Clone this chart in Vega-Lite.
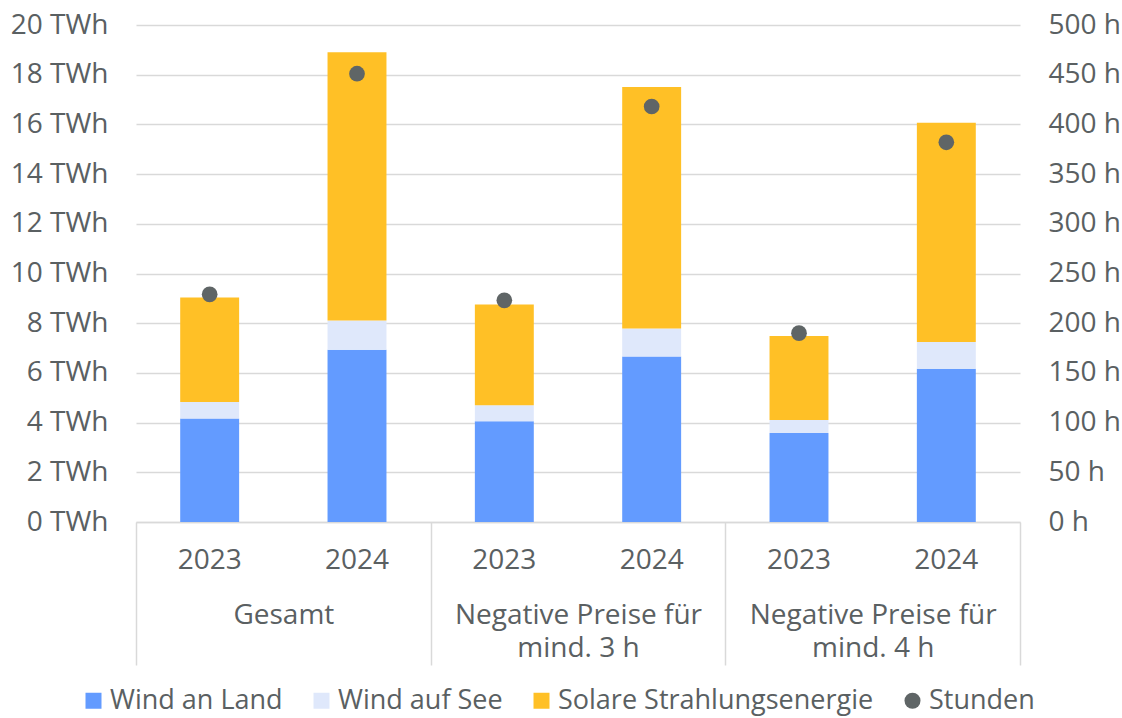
{
  "$schema": "https://vega.github.io/schema/vega-lite/v6.json",
  "width": 884,
  "height": 497,
  "autosize": {"type": "none"},
  "padding": {"left": 136, "top": 25, "right": 102, "bottom": 196},
  "background": "white",
  "config": {
    "font": "Open Sans",
    "view": {"stroke": null},
    "axis": {"labelFont": "Open Sans", "labelFontSize": 28, "labelColor": "#5a6062", "labelLimit": 400, "title": null},
    "legend": {"labelFont": "Open Sans", "labelFontSize": 27, "labelColor": "#5a6062", "labelLimit": 400}
  },
  "datasets": {
    "energy": [
      {"group": "Gesamt", "year": "2023", "key": "Gesamt 2023", "series": "Wind an Land", "ord": 1, "value": 4.17},
      {"group": "Gesamt", "year": "2023", "key": "Gesamt 2023", "series": "Wind auf See", "ord": 2, "value": 0.66},
      {"group": "Gesamt", "year": "2023", "key": "Gesamt 2023", "series": "Solare Strahlungsenergie", "ord": 3, "value": 4.2},
      {"group": "Gesamt", "year": "2024", "key": "Gesamt 2024", "series": "Wind an Land", "ord": 1, "value": 6.93},
      {"group": "Gesamt", "year": "2024", "key": "Gesamt 2024", "series": "Wind auf See", "ord": 2, "value": 1.18},
      {"group": "Gesamt", "year": "2024", "key": "Gesamt 2024", "series": "Solare Strahlungsenergie", "ord": 3, "value": 10.79},
      {"group": "Negative Preise für mind. 3 h", "year": "2023", "key": "Negative Preise für mind. 3 h 2023", "series": "Wind an Land", "ord": 1, "value": 4.05},
      {"group": "Negative Preise für mind. 3 h", "year": "2023", "key": "Negative Preise für mind. 3 h 2023", "series": "Wind auf See", "ord": 2, "value": 0.65},
      {"group": "Negative Preise für mind. 3 h", "year": "2023", "key": "Negative Preise für mind. 3 h 2023", "series": "Solare Strahlungsenergie", "ord": 3, "value": 4.05},
      {"group": "Negative Preise für mind. 3 h", "year": "2024", "key": "Negative Preise für mind. 3 h 2024", "series": "Wind an Land", "ord": 1, "value": 6.66},
      {"group": "Negative Preise für mind. 3 h", "year": "2024", "key": "Negative Preise für mind. 3 h 2024", "series": "Wind auf See", "ord": 2, "value": 1.13},
      {"group": "Negative Preise für mind. 3 h", "year": "2024", "key": "Negative Preise für mind. 3 h 2024", "series": "Solare Strahlungsenergie", "ord": 3, "value": 9.72},
      {"group": "Negative Preise für mind. 4 h", "year": "2023", "key": "Negative Preise für mind. 4 h 2023", "series": "Wind an Land", "ord": 1, "value": 3.58},
      {"group": "Negative Preise für mind. 4 h", "year": "2023", "key": "Negative Preise für mind. 4 h 2023", "series": "Wind auf See", "ord": 2, "value": 0.52},
      {"group": "Negative Preise für mind. 4 h", "year": "2023", "key": "Negative Preise für mind. 4 h 2023", "series": "Solare Strahlungsenergie", "ord": 3, "value": 3.38},
      {"group": "Negative Preise für mind. 4 h", "year": "2024", "key": "Negative Preise für mind. 4 h 2024", "series": "Wind an Land", "ord": 1, "value": 6.17},
      {"group": "Negative Preise für mind. 4 h", "year": "2024", "key": "Negative Preise für mind. 4 h 2024", "series": "Wind auf See", "ord": 2, "value": 1.07},
      {"group": "Negative Preise für mind. 4 h", "year": "2024", "key": "Negative Preise für mind. 4 h 2024", "series": "Solare Strahlungsenergie", "ord": 3, "value": 8.83}
    ],
    "hours": [
      {"key": "Gesamt 2023", "series": "Stunden", "hours": 229},
      {"key": "Gesamt 2024", "series": "Stunden", "hours": 451},
      {"key": "Negative Preise für mind. 3 h 2023", "series": "Stunden", "hours": 223},
      {"key": "Negative Preise für mind. 3 h 2024", "series": "Stunden", "hours": 418},
      {"key": "Negative Preise für mind. 4 h 2023", "series": "Stunden", "hours": 190},
      {"key": "Negative Preise für mind. 4 h 2024", "series": "Stunden", "hours": 382}
    ],
    "groups": [
      {"group": "Gesamt"},
      {"group": "Negative Preise für mind. 3 h"},
      {"group": "Negative Preise für mind. 4 h"}
    ]
  },
  "layer": [
    {
      "data": {"name": "energy"},
      "mark": {"type": "bar", "width": {"band": 0.4}},
      "encoding": {
        "x": {
          "field": "key", "type": "nominal", "sort": null,
          "scale": {"domain": ["Gesamt 2023", "Gesamt 2024", "Negative Preise für mind. 3 h 2023", "Negative Preise für mind. 3 h 2024", "Negative Preise für mind. 4 h 2023", "Negative Preise für mind. 4 h 2024"], "paddingInner": 0, "paddingOuter": 0},
          "axis": {"orient": "bottom", "labelExpr": "slice(datum.label, -4)", "ticks": false, "domain": true, "domainColor": "#d9d9d9", "domainWidth": 1.5, "labelAngle": 0, "labelBaseline": "alphabetic", "labelPadding": 46, "grid": false}
        },
        "y": {
          "field": "value", "type": "quantitative", "stack": "zero",
          "scale": {"domain": [0, 20]},
          "axis": {"orient": "left", "values": [0, 2, 4, 6, 8, 10, 12, 14, 16, 18, 20], "labelExpr": "datum.value + ' TWh'", "grid": true, "gridColor": "#d9d9d9", "gridWidth": 1.5, "ticks": false, "domain": false, "labelPadding": 28}
        },
        "color": {
          "field": "series", "type": "nominal",
          "scale": {"domain": ["Wind an Land", "Wind auf See", "Solare Strahlungsenergie", "Stunden"], "range": ["#639bff", "#dfe8fb", "#ffc026", "#5f6566"]},
          "legend": {"orient": "none", "legendX": -56, "legendY": 662, "direction": "horizontal", "title": null, "symbolSize": 256, "labelOffset": 3, "columnPadding": 25, "symbolStrokeWidth": 0}
        },
        "order": {"field": "ord", "type": "quantitative"}
      }
    },
    {
      "data": {"name": "hours"},
      "mark": {"type": "point", "filled": true, "opacity": 1, "size": 246, "strokeWidth": 0},
      "encoding": {
        "x": {
          "field": "key", "type": "nominal", "sort": null,
          "scale": {"domain": ["Gesamt 2023", "Gesamt 2024", "Negative Preise für mind. 3 h 2023", "Negative Preise für mind. 3 h 2024", "Negative Preise für mind. 4 h 2023", "Negative Preise für mind. 4 h 2024"], "paddingInner": 0, "paddingOuter": 0},
          "axis": null
        },
        "y": {
          "field": "hours", "type": "quantitative",
          "scale": {"domain": [0, 500]},
          "axis": {"orient": "right", "values": [0, 50, 100, 150, 200, 250, 300, 350, 400, 450, 500], "labelExpr": "datum.value + ' h'", "grid": false, "ticks": false, "domain": false, "labelPadding": 28}
        },
        "color": {"field": "series", "type": "nominal"},
        "shape": {
          "field": "series", "type": "nominal",
          "scale": {"domain": ["Wind an Land", "Wind auf See", "Solare Strahlungsenergie", "Stunden"], "range": ["square", "square", "square", "circle"]}
        }
      }
    },
    {
      "data": {"name": "groups"},
      "mark": {"type": "text", "text": ""},
      "encoding": {
        "x": {
          "field": "group", "type": "nominal", "sort": null,
          "scale": {"domain": ["Gesamt", "Negative Preise für mind. 3 h", "Negative Preise für mind. 4 h"], "paddingInner": 0, "paddingOuter": 0},
          "axis": {"orient": "bottom", "labelExpr": "indexof(datum.label + '', 'mind.') > 0 ? ['Negative Preise für', slice(datum.label, 20)] : (datum.label == 'Gesamt' ? 'Gesamt' : '')", "tickBand": "extent", "ticks": true, "tickSize": 143, "tickColor": "#d9d9d9", "tickWidth": 1.5, "domain": false, "labelBaseline": "alphabetic", "labelPadding": -42, "labelLineHeight": 33, "labelAngle": 0, "grid": false}
        }
      }
    }
  ],
  "resolve": {"scale": {"x": "independent", "y": "independent"}}
}
